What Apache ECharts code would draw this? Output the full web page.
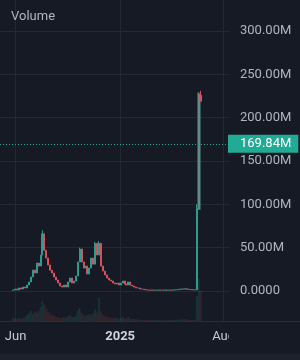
<!DOCTYPE html>
<html>
<head>
<meta charset="utf-8">
<script src="https://cdn.jsdelivr.net/npm/echarts@6/dist/echarts.min.js"></script>
<style>
  html, body { margin: 0; padding: 0; background: #161a25; }
  #chart { width: 300px; height: 360px; }
</style>
</head>
<body>
<div id="chart"></div>
<script>
// candles every 4 days, values in millions
const startDate = '2024-05-27';
const stepDays = 4;
const firstOpen = 0.8;
const closes = [
  1.2, 2.3, 1.2, 3.5, 2.3, 4.6, 3.5, 6.9, 10.4, 16.2,
  24.2, 20.8, 32.3, 28.8, 41.5, 66, 47, 38, 30, 24,
  20.8, 16.2, 12.7, 9.2, 5.8, 4.6, 6.9, 4.6, 10.4, 15.0,
  9.2, 11.5, 17.3, 33.5, 48.5, 33.5, 26.5, 28.8, 19.6, 26.5,
  38, 31, 55, 41.5, 55, 28.8, 23, 18.5, 15, 12.7,
  11.5, 9.2, 8.1, 9.2, 6.9, 9.2, 11.5, 8.1, 6.9, 10.4,
  6.9, 5.8, 4.6, 3.5, 3.5, 2.3, 2.3, 1.7, 1.2,
  1.1, 1.0, 1.2, 0.9, 1.0, 1.1, 0.9, 1.0, 1.2, 1.0,
  0.9, 1.1, 1.0, 1.2, 1.4, 1.6, 2.0, 2.4, 2.2, 2.6,
  2.1, 1.8, 1.5, 1.3, 1.4,
  95, 226, 219
];
// wicks that stick out above the body
const highs = { 15: 70, 34: 50, 42: 56.5, 44: 57.5, 94: 100, 95: 229, 96: 231 };
const volumes = [
  3, 2, 2, 3, 2, 3, 4,
  6, 8, 10, 7, 9, 8, 10,
  14, 20, 16, 12, 9,
  7, 6, 5, 4, 4, 3, 3, 4, 3, 5, 6, 4, 4, 5,
  10, 13, 8, 6,
  5, 6, 7, 6, 8,
  12, 9, 23, 10,
  6, 5, 4, 4, 3, 3, 3, 3, 2, 3, 4, 3, 2, 4, 2,
  2, 2, 1.5, 1.5, 1, 1, 1, 1,
  1, 1, 1, 0.8, 0.8, 1, 0.8, 0.8, 1, 0.8, 0.8, 1, 0.8, 1, 1, 1.2, 1.5, 1.8, 1.5, 2, 1.5, 1.2, 1, 1, 1.2,
  25, 42, 30
];
const lastValue = 169.84;
const yTicks = [0, 50, 100, 150, 200, 250, 300];
const xTicks = ['2024-06-01', '2025-01-01', '2025-08-01'];
const xTickLabels = ['Jun', '2025', 'Aug'];
const xRange = ['2024-04-30', '2025-08-14'];

const upColor = '#2a9d8f';
const downColor = '#d9505b';
const bg = '#161a25';
const gridColor = '#242833';
const textColor = '#b2b5be';

// x axis counts days from 2025-01-01
const DAY = 86400000;
const origin = Date.parse('2025-01-01');
const toDay = s => Math.round((Date.parse(s) - origin) / DAY);
const xTickDays = xTicks.map(toDay);
const day0 = toDay(startDate);

const candles = [];
const volBars = [];
let prev = firstOpen;
closes.forEach((c, i) => {
  const x = day0 + i * stepDays;
  const o = prev;
  const hi = highs[i] != null ? highs[i] : Math.max(o, c);
  const item = { value: [x, o, c, Math.min(o, c), hi] };
  if (i === 95) item.itemStyle = { color: '#5f8c85', borderColor: '#5f8c85', borderWidth: 2 };
  candles.push(item);
  volBars.push({
    value: [x, volumes[i]],
    itemStyle: { color: c >= o ? 'rgba(38,166,154,0.16)' : 'rgba(239,83,80,0.14)' }
  });
  prev = c;
});

const chart = echarts.init(document.getElementById('chart'));
chart.setOption({
  backgroundColor: bg,
  animation: false,
  title: {
    text: 'Volume',
    left: 6, top: 5,
    textStyle: { color: textColor, fontSize: 13, fontWeight: 'normal', fontFamily: 'Roboto' }
  },
  grid: { left: 0, right: 70, top: 0, bottom: 39 },
  xAxis: {
    type: 'value',
    min: toDay(xRange[0]),
    max: toDay(xRange[1]),
    axisLine: { show: false },
    axisTick: { show: false, customValues: xTickDays },
    splitLine: { show: true, lineStyle: { color: gridColor, width: 1 } },
    axisLabel: {
      customValues: xTickDays,
      margin: 9,
      color: '#c8cbd3',
      fontSize: 13,
      fontFamily: 'Roboto',
      formatter: function (v) {
        const i = xTickDays.indexOf(v);
        if (i < 0) return '';
        return i === 1 ? '{b|' + xTickLabels[i] + '}' : xTickLabels[i];
      },
      rich: { b: { fontWeight: 'bold', fontSize: 13, color: '#d1d4dc', fontFamily: 'Roboto' } }
    }
  },
  yAxis: [
    {
      type: 'value',
      position: 'right',
      min: -34.6,
      max: 335.77,
      axisLine: { show: false },
      axisTick: { show: false, customValues: yTicks },
      splitLine: { show: true, lineStyle: { color: gridColor, width: 1 } },
      axisLabel: {
        customValues: yTicks,
        margin: 10,
        color: textColor,
        fontSize: 13,
        fontFamily: 'Roboto',
        formatter: v => v === 0 ? '0.0000' : v.toFixed(2) + 'M'
      }
    },
    {
      type: 'value',
      min: 0,
      max: 321,
      show: false,
      splitLine: { show: false }
    }
  ],
  series: [
    {
      type: 'bar',
      yAxisIndex: 1,
      data: volBars,
      barWidth: 2,
      silent: true
    },
    {
      type: 'candlestick',
      data: candles,
      barWidth: 1.5,
      itemStyle: {
        color: upColor, color0: downColor,
        borderColor: upColor, borderColor0: downColor,
        borderWidth: 1
      },
      markLine: {
        silent: true,
        symbol: 'none',
        lineStyle: { color: '#26a69a', type: [1, 2], width: 1 },
        label: {
          position: 'end',
          distance: -2,
          formatter: lastValue.toFixed(2) + 'M',
          backgroundColor: '#22ab94',
          color: '#ffffff',
          fontSize: 13,
          fontFamily: 'Roboto',
          padding: [3, 7, 2, 12]
        },
        data: [{ yAxis: lastValue }]
      }
    }
  ],
  graphic: [
    // price scale panel clips the last time label
    { type: 'rect', z: 100, shape: { x: 229, y: 322, width: 71, height: 31 }, style: { fill: bg } },
    { type: 'line', z: 100, shape: { x1: 0, y1: 321.5, x2: 300, y2: 321.5 }, style: { stroke: '#2a2e39', lineWidth: 1 } },
    { type: 'rect', z: 100, shape: { x: 0, y: 354, width: 300, height: 6 }, style: { fill: '#1e222d' } }
  ]
});
window.addEventListener('resize', () => chart.resize());
</script>
</body>
</html>
